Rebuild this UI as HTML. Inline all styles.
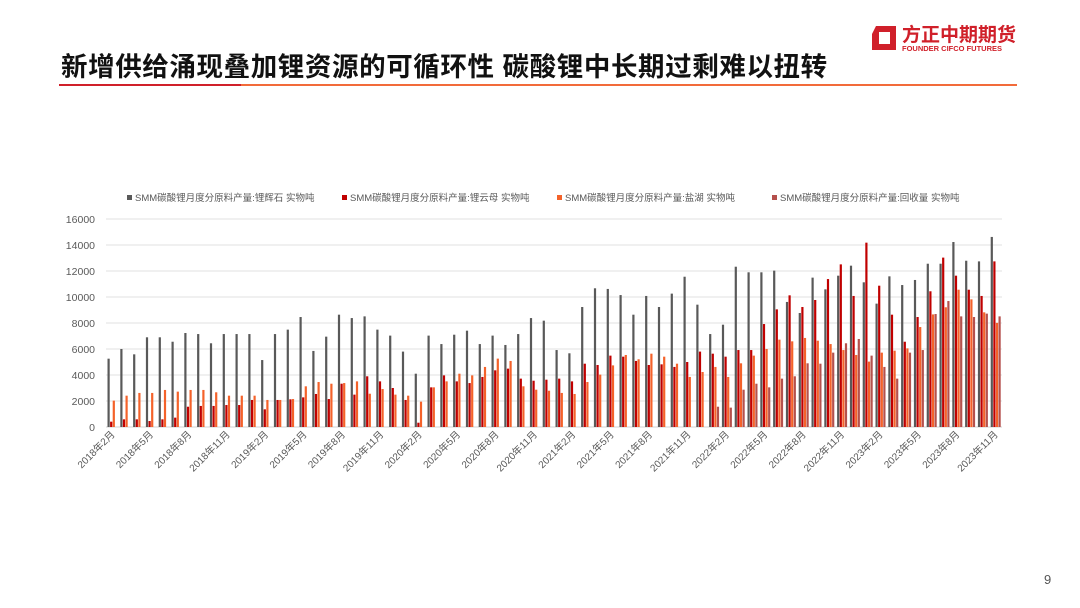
<!DOCTYPE html>
<html><head><meta charset="utf-8">
<style>
body{margin:0;width:1080px;height:608px;background:#fff;position:relative;overflow:hidden;font-family:"Liberation Sans","Noto Sans CJK SC",sans-serif}
.title{position:absolute;left:61px;top:45px;font-size:26.5px;font-weight:bold;color:#111;letter-spacing:0.6px;white-space:nowrap;font-family:"Liberation Sans","Noto Sans CJK SC",sans-serif}
</style></head><body>
<div class="title">新增供给涌现叠加锂资源的可循环性 碳酸锂中长期过剩难以扭转</div>
<div style="position:absolute;left:59px;top:84px;width:182px;height:2px;background:#d0202a"></div>
<div style="position:absolute;left:241px;top:84px;width:776px;height:2px;background:#f26b3a"></div>
<div style="position:absolute;left:870px;top:22px;width:150px;height:32px">
 <svg width="28" height="28" style="position:absolute;left:0;top:2px"><path d="M6 2 H26 V26 H2 V10 Z M9 8 V20 H20 V8 Z" fill="#d0202a" fill-rule="evenodd"/></svg>
 <div style="position:absolute;left:32px;top:-2px;font-size:19px;font-weight:bold;color:#d0202a;white-space:nowrap">方正中期期货</div>
 <div style="position:absolute;left:32px;top:22px;font-size:7.5px;font-weight:bold;color:#d0202a;white-space:nowrap">FOUNDER CIFCO FUTURES</div>
</div>
<div style="position:absolute;left:1044px;top:572px;font-size:13px;color:#555">9</div>
<svg id="chart" width="1080" height="608" style="position:absolute;left:0;top:0"></svg>
<script>
const seriesNames=["SMM碳酸锂月度分原料产量:锂辉石  实物吨","SMM碳酸锂月度分原料产量:锂云母  实物吨","SMM碳酸锂月度分原料产量:盐湖  实物吨","SMM碳酸锂月度分原料产量:回收量  实物吨"];
const spodumene=[5256,6000,5590,6900,6900,6560,7230,7150,6440,7150,7150,7150,5150,7150,7490,8460,5850,6950,8640,8380,8510,7490,7030,5800,
4100,7030,6380,7100,7410,6380,7030,6310,7150,8380,8180,5920,5670,9230,10670,10620,10150,8640,10080,9230,10260,11560,9410,
7150,7870,12330,11900,11900,12030,9620,8770,11490,10590,11640,12410,11130,9490,11590,10920,11310,12560,12560,14230,12790,12740,14620];
const lepidolite=[410,590,590,460,590,720,1560,1620,1620,1690,1690,2080,1360,2080,2130,2280,2540,2150,3330,2490,3900,3510,3000,2080,
330,3050,3970,3510,3380,3850,4360,4490,3720,3560,3640,3720,3510,4870,4770,5490,5410,5080,4770,4820,4620,5000,5800,
5640,5410,5920,5920,7920,9050,10130,9230,9770,11380,12510,10080,14180,10870,8640,6560,8460,10440,13030,11640,10560,10080,12740];
const brine=[2030,2410,2620,2620,2850,2720,2850,2850,2670,2410,2410,2410,2080,2080,2150,3130,3460,3330,3380,3510,2560,2920,2490,2410,
1950,3050,3510,4100,3970,4620,5260,5080,3130,2870,2790,2620,2540,3460,4030,4740,5540,5210,5640,5410,4870,3850,4230,
4620,3850,4900,5490,6000,6720,6590,6850,6640,6380,5920,5540,5030,5720,5870,6050,7690,8660,9210,10560,9820,8820,8010];
const recycled=[0,0,0,0,0,0,0,0,0,0,0,0,0,0,0,0,0,0,0,0,0,0,0,0,
0,0,0,0,0,0,0,0,0,0,0,0,0,0,0,0,0,0,0,0,0,0,0,
1560,1490,2870,3330,3050,3720,3900,4900,4870,5720,6440,6770,5490,4620,3720,5720,5920,8690,9690,8510,8460,8720,8510];
const yTicks=[0,2000,4000,6000,8000,10000,12000,14000,16000];
const startYear=2018,startMonth=2;
const categories=[];
for(let i=0;i<spodumene.length;i++){const m=startMonth-1+i;categories.push((startYear+Math.floor(m/12))+"年"+(m%12+1)+"月");}
const colors=["#595959","#c00000","#f4622a","#b5504c"];
const svg=document.getElementById('chart');
const NS="http://www.w3.org/2000/svg";
const X0=106,X1=1002,Y0=427,Y1=219,YMAX=16000;
const step=(X1-X0)/categories.length;
function y(v){return Y0-(v/YMAX)*(Y0-Y1);}
function xc(i){return X0+step*(i+0.5);}
function mk(t,a){const e=document.createElementNS(NS,t);for(const k in a)e.setAttribute(k,a[k]);svg.appendChild(e);return e;}
yTicks.forEach(t=>{
 const g=mk('line',{x1:X0,x2:X1,y1:y(t),y2:y(t),stroke:t===0?'#d0d0d0':'#e2e2e2','stroke-width':1});
 
 
 const l=mk('text',{x:X0-11,y:y(t)+4,'text-anchor':'end','font-size':'10.5',fill:'#595959','font-family':'Liberation Sans, sans-serif'});
 l.textContent=t;
 
 
});
const all=[spodumene,lepidolite,brine,recycled];
const bw=2.6;
all.forEach((s,si)=>{
 s.forEach((v,i)=>{
  if(v<=0)return;
  const r=mk('rect',{x:xc(i)-2*bw+si*bw+0.3,y:y(v),width:bw-0.4,height:Y0-y(v),fill:colors[si]});
  
  
 });
});
categories.forEach((c,i)=>{
 if(i%3!==0)return;
 const tx=xc(i)+3,ty=Y0+8;
 const t=mk('text',{x:tx,y:ty,'text-anchor':'end','font-size':'10',fill:'#595959',transform:`rotate(-45 ${tx} ${ty})`,'font-family':'Liberation Sans, Noto Sans CJK SC, sans-serif'});
 t.textContent=c;
 
 
});
const legX=[127,342,557,772];
seriesNames.forEach((n,i)=>{
 const r=mk('rect',{x:legX[i],y:195,width:5,height:5,fill:colors[i]});
 
 
 const t=mk('text',{x:legX[i]+8,y:201,'font-size':'9.5',fill:'#595959','font-family':'Liberation Sans, Noto Sans CJK SC, sans-serif'});
 t.textContent=n;
 
 
});
</script>
</body></html>
